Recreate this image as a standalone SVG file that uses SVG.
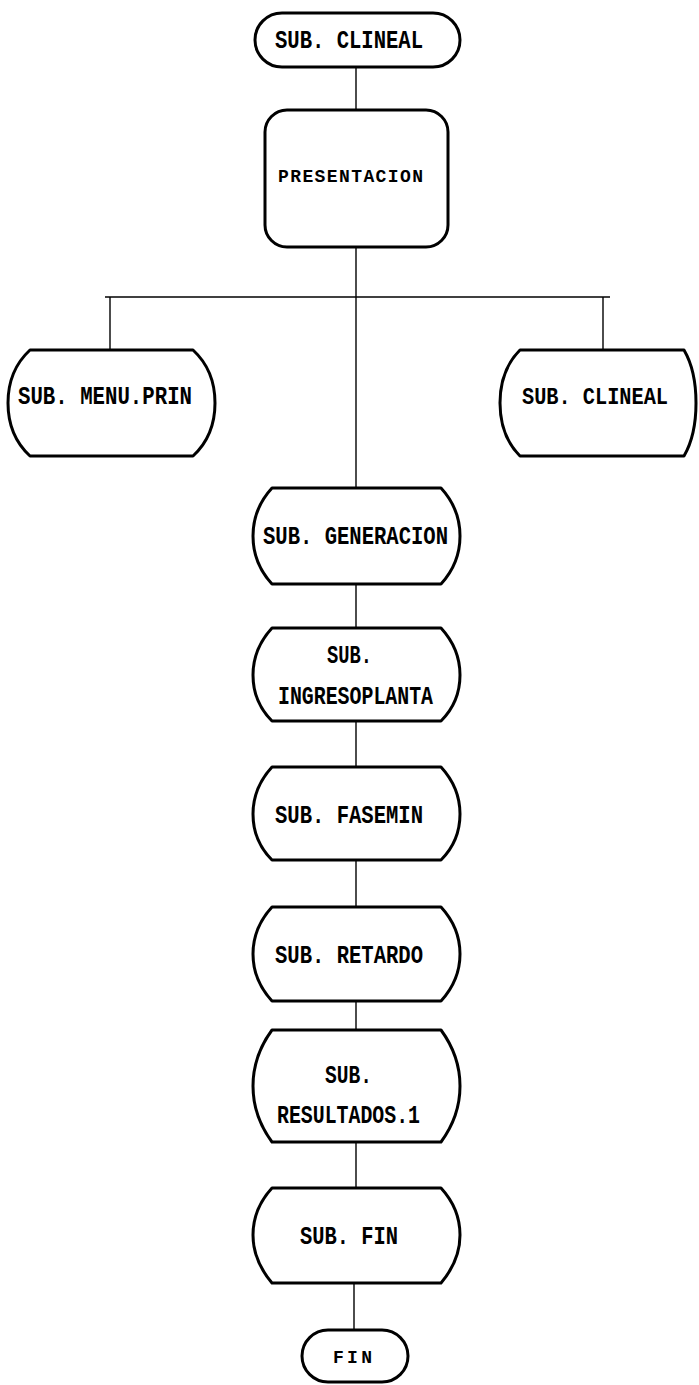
<svg xmlns="http://www.w3.org/2000/svg" width="699" height="1385" viewBox="0 0 699 1385">
  <style>
    .node { fill: #fff; stroke: #000; stroke-width: 3; stroke-linejoin: round; }
    .conn { stroke: #000; stroke-width: 1.4; fill: none; }
    .lbl { font-family: "Liberation Mono", "DejaVu Sans Mono", monospace; font-weight: bold; font-size: 25px; fill: #000; text-anchor: start; }
    .small { font-size: 18px; }
    .edge { font-size: 23px; }
  </style>
  <rect width="699" height="1385" fill="#fff"/>

  <!-- connectors -->
  <g id="connectors">
    <line class="conn" x1="356" y1="67" x2="356" y2="110"/>
    <line class="conn" x1="356" y1="247" x2="356" y2="488"/>
    <line class="conn" x1="105" y1="297" x2="610" y2="297"/>
    <line class="conn" x1="110" y1="297" x2="110" y2="350"/>
    <line class="conn" x1="603" y1="297" x2="603" y2="350"/>
    <line class="conn" x1="356" y1="584" x2="356" y2="628"/>
    <line class="conn" x1="356" y1="721" x2="356" y2="767"/>
    <line class="conn" x1="356" y1="860" x2="356" y2="907"/>
    <line class="conn" x1="356" y1="1001" x2="356" y2="1030"/>
    <line class="conn" x1="356" y1="1142" x2="356" y2="1188"/>
    <line class="conn" x1="354" y1="1283" x2="354" y2="1330"/>
  </g>

  <!-- start terminal -->
  <g id="n-start">
    <rect class="node" x="255" y="13" width="205" height="54" rx="27" ry="27"/>
    <text class="lbl" x="275" y="48" textLength="148" lengthAdjust="spacingAndGlyphs">SUB. CLINEAL</text>
  </g>

  <g id="n-presentacion">
    <rect class="node" x="265" y="110" width="183" height="137" rx="22" ry="22"/>
    <text class="lbl small" x="278" y="182" textLength="145" lengthAdjust="spacing">PRESENTACION</text>
  </g>

  <g id="n-menu">
    <path class="node" d="M30,350 H193 C206,362 215,380 215,403 C215,426 206,444 193,456 H30 C17,444 8,426 8,403 C8,380 17,362 30,350 Z"/>
    <text class="lbl" x="18" y="404" textLength="174" lengthAdjust="spacingAndGlyphs">SUB. MENU.PRIN</text>
  </g>

  <g id="n-clineal-right">
    <path class="node" d="M520,350 H684 C691,362 696,380 696,403 C696,426 691,444 684,456 H520 C508,444 500,426 500,403 C500,380 508,362 520,350 Z"/>
    <text class="lbl edge" x="522" y="404" textLength="146" lengthAdjust="spacingAndGlyphs">SUB. CLINEAL</text>
  </g>

  <g id="n-generacion">
    <path class="node" d="M272,488 H441 C452,500 460,515 460,536 C460,557 452,572 441,584 H272 C261,572 253,557 253,536 C253,515 261,500 272,488 Z"/>
    <text class="lbl" x="263" y="544" textLength="185" lengthAdjust="spacingAndGlyphs">SUB. GENERACION</text>
  </g>

  <g id="n-ingreso">
    <path class="node" d="M272,628 H441 C452,640 460,655 460,675 C460,695 452,710 441,721 H272 C261,710 253,695 253,675 C253,655 261,640 272,628 Z"/>
    <text class="lbl" x="327" y="663" textLength="45" lengthAdjust="spacingAndGlyphs">SUB.</text>
    <text class="lbl" x="278" y="704" textLength="155" lengthAdjust="spacingAndGlyphs">INGRESOPLANTA</text>
  </g>

  <g id="n-fasemin">
    <path class="node" d="M272,767 H441 C452,779 460,794 460,814 C460,834 452,849 441,860 H272 C261,849 253,834 253,814 C253,794 261,779 272,767 Z"/>
    <text class="lbl" x="275" y="823" textLength="148" lengthAdjust="spacingAndGlyphs">SUB. FASEMIN</text>
  </g>

  <g id="n-retardo">
    <path class="node" d="M272,907 H441 C452,919 460,934 460,954 C460,974 452,989 441,1001 H272 C261,989 253,974 253,954 C253,934 261,919 272,907 Z"/>
    <text class="lbl" x="275" y="963" textLength="148" lengthAdjust="spacingAndGlyphs">SUB. RETARDO</text>
  </g>

  <g id="n-resultados">
    <path class="node" d="M272,1030 H441 C452,1045 460,1063 460,1086 C460,1109 452,1127 441,1142 H272 C261,1127 253,1109 253,1086 C253,1063 261,1045 272,1030 Z"/>
    <text class="lbl" x="325" y="1083" textLength="47" lengthAdjust="spacingAndGlyphs">SUB.</text>
    <text class="lbl" x="277" y="1123" textLength="143" lengthAdjust="spacingAndGlyphs">RESULTADOS.1</text>
  </g>

  <g id="n-subfin">
    <path class="node" d="M272,1188 H441 C452,1200 460,1215 460,1235 C460,1255 452,1270 441,1283 H272 C261,1270 253,1255 253,1235 C253,1215 261,1200 272,1188 Z"/>
    <text class="lbl" x="300" y="1244" textLength="98" lengthAdjust="spacingAndGlyphs">SUB. FIN</text>
  </g>

  <!-- end terminal -->
  <g id="n-end">
    <rect class="node" x="302" y="1330" width="106" height="52" rx="26" ry="26"/>
    <text class="lbl small" x="333" y="1363" textLength="39" lengthAdjust="spacing">FIN</text>
  </g>
</svg>
